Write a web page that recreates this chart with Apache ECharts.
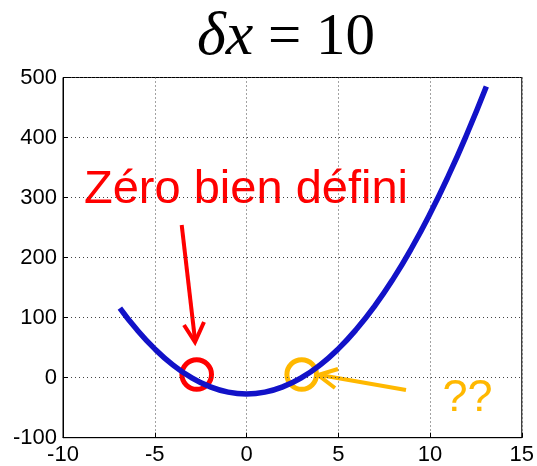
<!DOCTYPE html>
<html>
<head>
<meta charset="utf-8">
<script src="https://cdn.jsdelivr.net/npm/echarts@6/dist/echarts.min.js"></script>
<style>
  html, body { margin: 0; padding: 0; background: #fff; }
  #chart { width: 537px; height: 466px; }
</style>
</head>
<body>
<div id="chart"></div>
<script>
// valeurs
const xs = [-6.9, -6, -5, -4, -3, -2, -1, 0, 1, 2, 3, 4, 5, 6, 7, 8, 9, 10, 11, 12, 13.07]
const ys = [116, 81, 48, 21, 0, -15, -24, -27, -24, -15, 0, 21, 48, 81, 120, 165, 216, 273, 336, 405, 485]
const xTicks = [-10, -5, 0, 5, 10, 15]
const yTicks = [-100, 0, 100, 200, 300, 400, 500]

const red = '#ff0000'
const yellow = '#ffb800'

let option = {
  animation: false,
  title: {
    text: '{i|δx}{n| = 10}',
    left: 192,
    top: 2,
    textStyle: {
      rich: {
        i: { fontFamily: 'Liberation Serif', fontStyle: 'italic', fontWeight: 'normal', fontSize: 62, color: '#000' },
        n: { fontFamily: 'Liberation Serif', fontWeight: 'normal', fontSize: 59, color: '#000' }
      }
    }
  },
  grid: {
    left: 63,
    right: 13.5,
    top: 77.5,
    bottom: 28.3,
    show: true,
    borderColor: '#000',
    borderWidth: 1
  },
  xAxis: {
    type: 'value',
    min: xTicks[0],
    max: xTicks[xTicks.length - 1],
    interval: 5,
    axisLine: { onZero: false, lineStyle: { color: '#000' } },
    axisTick: { inside: true, length: 5, lineStyle: { color: '#000' } },
    axisLabel: { color: '#000', fontFamily: 'Liberation Sans', fontSize: 22, margin: 6 },
    splitLine: { lineStyle: { color: '#444', type: [1, 3] } }
  },
  yAxis: {
    type: 'value',
    min: yTicks[0],
    max: yTicks[yTicks.length - 1],
    interval: 100,
    axisLine: { show: true, onZero: false, lineStyle: { color: '#000' } },
    axisTick: { show: true, inside: true, length: 5, lineStyle: { color: '#000' } },
    axisLabel: { color: '#000', fontFamily: 'Liberation Sans', fontSize: 22, margin: 6 },
    splitLine: { lineStyle: { color: '#444', type: [1, 3] } }
  },
  series: [
    {
      type: 'line',
      smooth: true,
      showSymbol: false,
      lineStyle: { color: '#1212c8', width: 5.5 },
      data: xs.map((x, i) => [x, ys[i]])
    }
  ],
  graphic: [
    {
      type: 'text', x: 246, y: 190,
      style: { text: 'Zéro bien défini', font: '47px "Liberation Sans"', fill: red, align: 'center', verticalAlign: 'middle' }
    },
    {
      type: 'line', shape: { x1: 181.7, y1: 225, x2: 195, y2: 340 },
      style: { stroke: red, lineWidth: 4 }
    },
    {
      type: 'polyline', shape: { points: [[184, 325], [195, 342], [204, 322]] },
      style: { stroke: red, lineWidth: 4, fill: null }
    },
    {
      type: 'circle', shape: { cx: 196.7, cy: 374.5, r: 14.8 },
      style: { stroke: red, lineWidth: 5, fill: null }
    },
    {
      type: 'circle', shape: { cx: 301.7, cy: 374.5, r: 14.8 },
      style: { stroke: yellow, lineWidth: 5, fill: null }
    },
    {
      type: 'line', shape: { x1: 406, y1: 390, x2: 320, y2: 375 },
      style: { stroke: yellow, lineWidth: 4 }
    },
    {
      type: 'polyline', shape: { points: [[338, 369], [318, 375], [335, 388]] },
      style: { stroke: yellow, lineWidth: 4, fill: null }
    },
    {
      type: 'text', x: 467.5, y: 399,
      style: { text: '??', font: '45px "Liberation Sans"', fill: yellow, align: 'center', verticalAlign: 'middle' }
    }
  ]
}

let chart = echarts.init(document.getElementById('chart'))
chart.setOption(option)
</script>
</body>
</html>
